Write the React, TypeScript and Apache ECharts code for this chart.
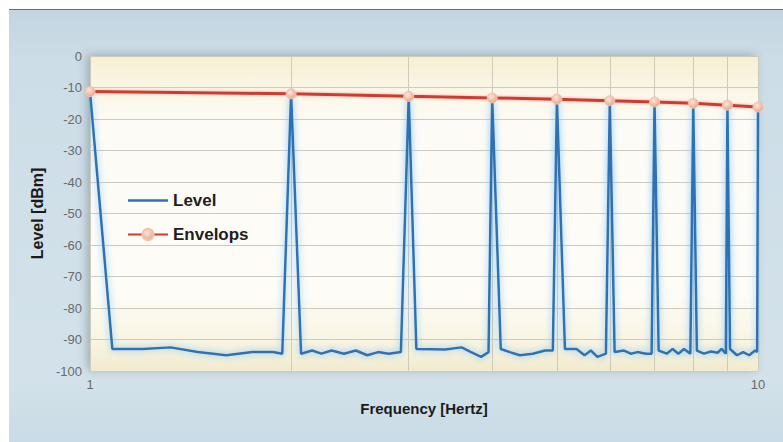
import React, { useEffect, useRef } from "react";
import * as echarts from "echarts";

// Level trace (frequency in Hz, level in dBm)
const levelFreqs = [
  1, 1.08, 1.2, 1.32, 1.45, 1.6, 1.75, 1.88, 1.94, 2,
  2.07, 2.15, 2.22, 2.3, 2.4, 2.5, 2.6, 2.7, 2.8, 2.92, 3,
  3.08, 3.4, 3.6, 3.72, 3.85, 3.95, 4,
  4.12, 4.25, 4.4, 4.6, 4.8, 4.93, 5,
  5.14, 5.35, 5.5, 5.62, 5.75, 5.92, 6,
  6.1, 6.3, 6.45, 6.6, 6.8, 6.93, 7,
  7.1, 7.3, 7.45, 7.6, 7.75, 7.92, 8,
  8.1, 8.3, 8.5, 8.7, 8.82, 8.95, 9,
  9.08, 9.3, 9.5, 9.7, 9.9, 9.97, 10,
];
const levelValues = [
  -11.3, -93, -93, -92.5, -94, -95, -94, -94, -94.5, -12,
  -94.5, -93.5, -94.5, -93.5, -94.5, -93.5, -95, -94, -94.5, -94, -12.8,
  -93, -93.2, -92.5, -94, -95.5, -94, -13.3,
  -93, -94, -95, -94.5, -93.5, -93.5, -13.7,
  -93, -93, -95, -93.5, -95.5, -94.5, -14.2,
  -94, -93.5, -94.5, -94, -94.5, -94.5, -14.6,
  -93.5, -94.5, -93, -94.5, -93, -94.5, -15,
  -93.5, -94.5, -93.8, -94.2, -93, -94.5, -15.6,
  -93, -95, -94, -95, -93.5, -94, -16.2,
];

// Envelope points
const envelopeFreqs = [1, 2, 3, 4, 5, 6, 7, 8, 9, 10];
const envelopeValues = [-11.3, -12, -12.8, -13.3, -13.7, -14.2, -14.6, -15, -15.6, -16.2];

// Vertical grid lines between decades
const gridFreqs = [2, 3, 4, 5, 6, 7, 8, 9];

const FONT = "Arial, 'Liberation Sans', Helvetica, sans-serif";

export default function App() {
  const ref = useRef<HTMLDivElement>(null);

  useEffect(() => {
    document.body.style.margin = "0";
    document.documentElement.style.overflow = "hidden";
    if (!ref.current) return;
    const chart = echarts.init(ref.current, null, { renderer: "svg" });
    chart.setOption({
      animation: false,
      backgroundColor: new echarts.graphic.LinearGradient(0, 0, 0, 1, [
        { offset: 0, color: "#c2d5e1" },
        { offset: 0.12, color: "#cddde7" },
        { offset: 0.85, color: "#d3e2ea" },
        { offset: 1, color: "#c9dbe6" },
      ]),
      grid: {
        left: 81,
        right: 25,
        top: 46,
        bottom: 71,
        show: true,
        borderWidth: 0,
        backgroundColor: new echarts.graphic.LinearGradient(0, 0, 0, 1, [
          { offset: 0, color: "#f5efd2" },
          { offset: 0.1, color: "#faf6e6" },
          { offset: 0.22, color: "#fdfbf6" },
          { offset: 0.75, color: "#fdfcf7" },
          { offset: 0.9, color: "#f9f5e4" },
          { offset: 1, color: "#f0ebcf" },
        ]),
        shadowBlur: 10,
        shadowColor: "rgba(60,70,80,0.35)",
        shadowOffsetX: -3,
        shadowOffsetY: -1,
      },
      legend: {
        orient: "vertical",
        left: 113,
        top: 177,
        itemWidth: 40,
        itemHeight: 14,
        itemGap: 17,
        textStyle: { fontFamily: FONT, fontWeight: "bold", fontSize: 17, color: "#1e1e1e" },
        data: [
          { name: "Level", icon: "path://M0,0L40,0L40,2.5L0,2.5Z" },
          { name: "Envelops" },
        ],
      },
      xAxis: {
        type: "log",
        logBase: 10,
        min: 1,
        max: 10,
        name: "Frequency [Hertz]",
        nameLocation: "middle",
        nameGap: 30,
        nameTextStyle: { fontFamily: FONT, fontWeight: "bold", fontSize: 15, color: "#1a1a1a" },
        axisLine: { show: false },
        axisTick: { show: false },
        axisLabel: { fontFamily: FONT, fontSize: 13, color: "#6a6a6a", margin: 7 },
        splitLine: { show: true, lineStyle: { color: "#cfcbbb", width: 1 } },
      },
      yAxis: {
        type: "value",
        min: -100,
        max: 0,
        interval: 10,
        name: "Level [dBm]",
        nameLocation: "middle",
        nameGap: 36,
        nameRotate: 90,
        nameTextStyle: { fontFamily: FONT, fontWeight: "bold", fontSize: 16, color: "#1a1a1a" },
        axisLine: { show: false },
        axisTick: { show: false },
        axisLabel: { fontFamily: FONT, fontSize: 13, color: "#6a6a6a", margin: 8 },
        splitLine: { show: true, lineStyle: { color: "#cdcbc0", width: 1 } },
      },
      series: [
        {
          name: "Level",
          type: "line",
          data: levelFreqs.map((f, i) => [f, levelValues[i]]),
          symbol: "none",
          showSymbol: false,
          itemStyle: { color: "#2f72b3" },
          lineStyle: {
            color: "#2f72b3",
            width: 2.5,
            shadowBlur: 7,
            shadowColor: "rgba(120,190,245,1)",
          },
          z: 3,
          markLine: {
            silent: true,
            symbol: "none",
            label: { show: false },
            lineStyle: { color: "#cfcbbb", width: 1, type: "solid" },
            data: gridFreqs.map((f) => ({ xAxis: f })),
            z: 1,
          },
        },
        {
          name: "Envelops",
          type: "line",
          data: envelopeFreqs.map((f, i) => [f, envelopeValues[i]]),
          symbol: "circle",
          symbolSize: 10,
          showSymbol: true,
          lineStyle: {
            color: "#cf3a2f",
            width: 3,
            shadowBlur: 3,
            shadowColor: "rgba(240,150,140,0.8)",
          },
          itemStyle: {
            color: new echarts.graphic.RadialGradient(0.4, 0.35, 0.7, [
              { offset: 0, color: "#fde6da" },
              { offset: 1, color: "#e9a385" },
            ]),
            borderColor: "#f3c3ad",
            borderWidth: 1,
          },
          z: 4,
        },
      ],
    });
    return () => chart.dispose();
  }, []);

  return (
    <div style={{ position: "absolute", left: 0, top: 0, width: 783, height: 442, background: "#ffffff" }}>
      <div
        style={{
          position: "absolute",
          left: 9,
          top: 9,
          width: 774,
          height: 1,
          background: "#5f707c",
        }}
      />
      <div ref={ref} style={{ position: "absolute", left: 9, top: 10, width: 774, height: 432 }} />
    </div>
  );
}
